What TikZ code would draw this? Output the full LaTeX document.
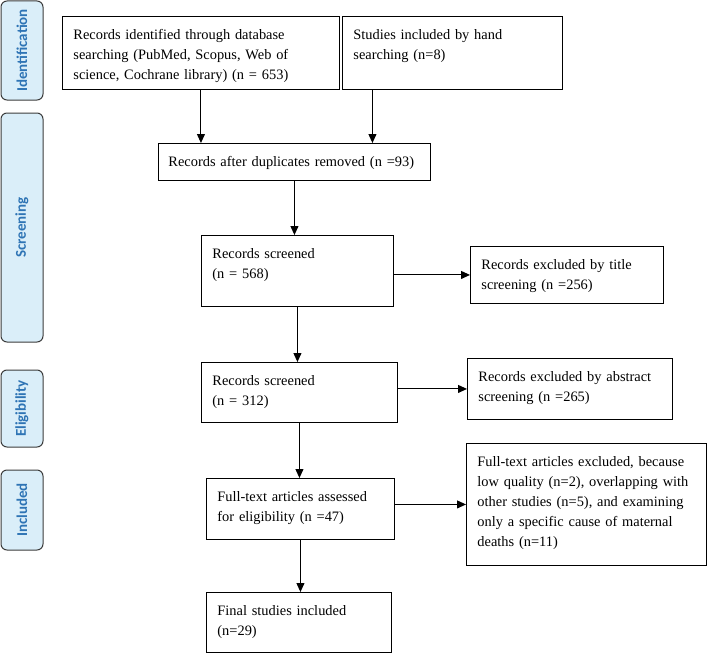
\documentclass[tikz,border=0pt]{standalone}
\usepackage{fontspec}
\setmainfont{Liberation Serif}
\newfontfamily\phasefont{Carlito}
\usepackage{tikz}
\usetikzlibrary{arrows.meta,positioning}

\definecolor{phasefill}{HTML}{DAEEF9}
\definecolor{phaseblue}{HTML}{2E74B5}
\definecolor{phaseedge}{HTML}{3C3C3C}

\begin{document}
\begin{tikzpicture}[x=1pt,y=-1pt]
			\tikzstyle{Record}	= [draw, line width=0.9pt, anchor=north west, align=left, inner xsep=11pt, inner ysep=0pt, text height=23pt, font=\fontsize{14.4}{20}\selectfont]
			\tikzstyle{Phase}	= [draw=phaseedge, fill=phasefill, line width=1pt, rounded corners=6pt, rotate=90, minimum height=42pt, text=phaseblue, font=\phasefont\bfseries\fontsize{15}{17}\selectfont]
			\tikzstyle{Flow}	= [-{Triangle[length=9pt,width=8pt]}, line width=1pt]

			\useasboundingbox (0,0) rectangle (709,661);

			% phases on the left
			\foreach \name/\yc/\len/\txt in {phId/50.5/99/Identification, phScr/227.5/229/Screening, phElig/408.5/77/Eligibility, phIncl/510/80/Included}
				\node (\name) at (22,\yc) [Phase, minimum width=\len] {\txt};

			% records
			\node (ident) at (62,16) [Record, text width=255pt, text depth=50pt] {Records identified through database\\searching (PubMed, Scopus, Web of\\science, Cochrane library) (n = 653)};
			\node (hand) at (342,16) [Record, text width=198pt, text depth=50pt] {Studies included by hand\\searching (n=8)};
			\node (dup) at (158,143) [Record, inner xsep=10pt, text width=252pt, text depth=14pt] {Records after duplicates removed (n =93)};
			\node (scr1) at (201,235) [Record, text width=170pt, text depth=48pt] {Records screened\\(n = 568)};
			\node (excl1) at (470,246) [Record, text width=171pt, text depth=34pt] {Records excluded by title\\screening (n =256)};
			\node (scr2) at (201,362) [Record, text width=174pt, text depth=37pt] {Records screened\\(n = 312)};
			\node (excl2) at (467,358) [Record, text width=183pt, text depth=38pt] {Records excluded by abstract\\screening (n =265)};
			\node (elig) at (206,478) [Record, text width=166pt, text depth=38pt] {Full-text articles assessed\\for eligibility (n =47)};
			\node (excl3) at (466,443) [Record, text width=218pt, text depth=99pt] {Full-text articles excluded, because\\low quality (n=2), overlapping with\\other studies (n=5), and examining\\only a specific cause of maternal\\deaths (n=11)};
			\node (incl) at (206,592) [Record, text width=163pt, text depth=37pt] {Final studies included\\(n=29)};

			% arrows
			\draw [Flow] (ident.south) -- (ident.south |- dup.north);
			\draw [Flow] ([xshift=-80pt]hand.south) -- ([xshift=-80pt]hand.south |- dup.north);
			\foreach \a/\b in {dup/scr1, scr1/scr2, scr2/elig, elig/incl}
				\draw [Flow] (\a.south) -- (\a.south |- \b.north);
			\foreach \a/\b in {scr1/excl1, scr2/excl2, elig/excl3}
				\draw [Flow] (\b.west -| \a.east) -- (\b.west);
		\end{tikzpicture}
\end{document}
